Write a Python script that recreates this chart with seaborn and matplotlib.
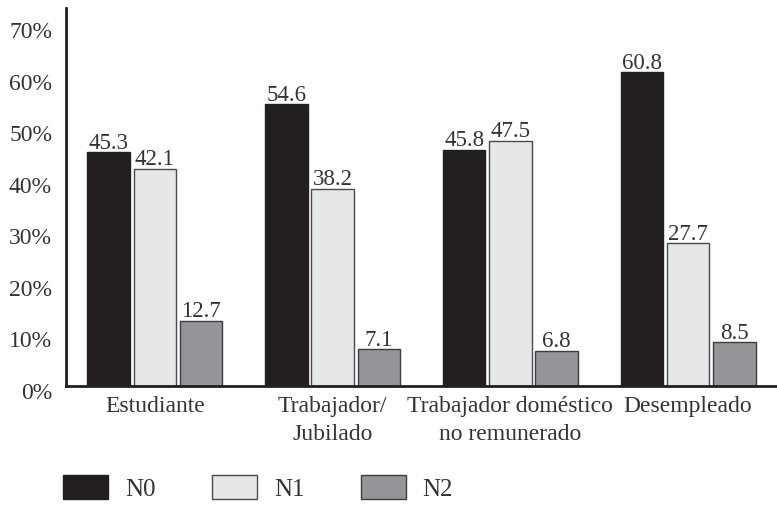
import matplotlib
matplotlib.use('Agg')
import matplotlib.pyplot as plt
from matplotlib.patches import Patch
from matplotlib.ticker import FixedLocator
from matplotlib.transforms import ScaledTranslation
import seaborn as sns
import pandas as pd

# Datos (porcentajes por situacion laboral)
categories = ['Estudiante', 'Trabajador/\nJubilado',
              'Trabajador doméstico\nno remunerado', 'Desempleado']
series = ['N0', 'N1', 'N2']
n0_values = [45.3, 54.6, 45.8, 60.8]
n1_values = [42.1, 38.2, 47.5, 27.7]
n2_values = [12.7, 7.1, 6.8, 8.5]
y_ticks = [0, 10, 20, 30, 40, 50, 60, 70]
y_ticklabels = ['0%', '10%', '20%', '30%', '40%', '50%', '60%', '70%']

bar_colors = ['#231f20', '#e6e7e8', '#939598']
edge_colors = ['#231f20', '#4a4a4c', '#3c3c3e']
ink = '#231f20'
text_color = '#333333'

sns.set_style('white')
plt.rcParams['font.family'] = ['Liberation Serif', 'DejaVu Serif']

rows = []
for name, vals in zip(series, [n0_values, n1_values, n2_values]):
    for cat, v in zip(categories, vals):
        rows.append({'categoria': cat, 'serie': name, 'valor': v})
df = pd.DataFrame(rows)

fig = plt.figure(figsize=(7.77, 5.09), dpi=100)
ax = fig.add_axes([66 / 777, 1 - 386 / 509, 1 - 66 / 777, 378 / 509])

sns.barplot(data=df, x='categoria', y='valor', hue='serie', order=categories,
            hue_order=series, palette=bar_colors, saturation=1, width=0.78,
            gap=0.08, errorbar=None, ax=ax, legend=False)

for cont, ec in zip(ax.containers, edge_colors):
    for bar in cont:
        bar.set_edgecolor(ec)
        bar.set_linewidth(1.0)
    ax.bar_label(cont, fmt='%.1f', padding=-1, fontsize=16.5, color=text_color)

ax.set_xlim(-0.5, 3.5)
ax.set_ylim(0, 73.3)
ax.set_xlabel('')
ax.set_ylabel('')

sns.despine(ax=ax, top=True, right=True)
for side in ['left', 'bottom']:
    ax.spines[side].set_linewidth(2.0)
    ax.spines[side].set_color(ink)

ax.set_yticks(y_ticks)
ax.set_yticklabels(y_ticklabels, fontsize=17, color=text_color)
ax.tick_params(axis='y', direction='in', length=12, width=1.8, color=ink, pad=10)
shift_down = ScaledTranslation(0, -5 / 100, fig.dpi_scale_trans)
for lbl in ax.get_yticklabels():
    lbl.set_transform(lbl.get_transform() + shift_down)

ax.tick_params(axis='x', which='major', length=0, pad=7, labelsize=17,
               labelcolor=text_color)
ax.xaxis.set_minor_locator(FixedLocator([0.5, 1.5, 2.5, 3.5]))
ax.tick_params(axis='x', which='minor', direction='in', length=8.5, width=1.6,
               color=ink)
for lbl in ax.get_xticklabels():
    lbl.set_horizontalalignment('center')
    lbl.set_linespacing(1.45)

handles = [Patch(facecolor=c, edgecolor=e, linewidth=1.0)
           for c, e in zip(bar_colors, edge_colors)]
fig.legend(handles, series, loc='upper left',
           bbox_to_anchor=(63 / 777, 1 - 475 / 509), ncol=3, frameon=False,
           fontsize=18, handlelength=1.8, handleheight=1.1,
           handletextpad=0.68, columnspacing=2.25, borderpad=0,
           borderaxespad=0, labelcolor=text_color)

fig.savefig('out.png', dpi=100, facecolor='white')
